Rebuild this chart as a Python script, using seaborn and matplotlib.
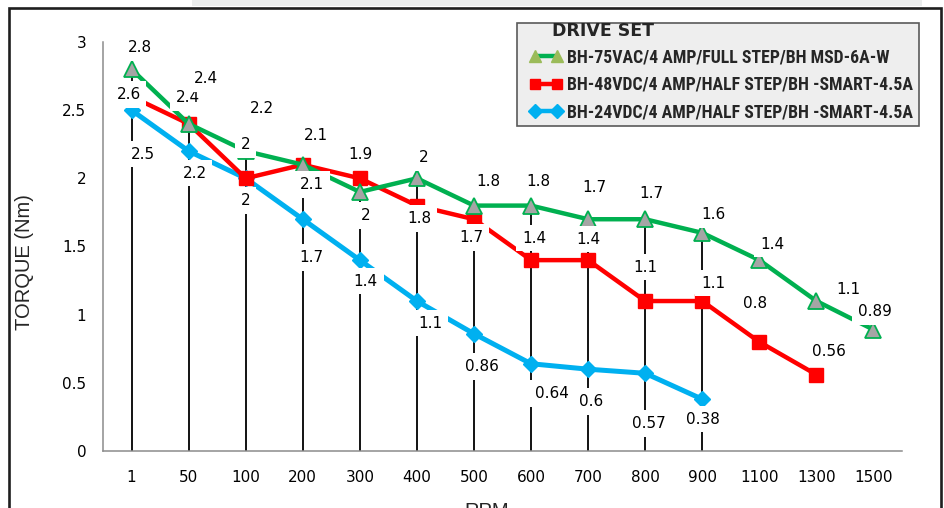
import numpy as np
import pandas as pd
import matplotlib
matplotlib.use("Agg")
import matplotlib.pyplot as plt
import seaborn as sns
from matplotlib.lines import Line2D
from matplotlib.patches import Rectangle
from matplotlib.ticker import FixedLocator

# ---------------- data ----------------
speeds = ["1", "50", "100", "200", "300", "400", "500", "600", "700",
          "800", "900", "1100", "1300", "1500"]
torque_75vac = [2.8, 2.4, 2.2, 2.1, 1.9, 2.0, 1.8, 1.8, 1.7, 1.7, 1.6, 1.4, 1.1, 0.89]
torque_48vdc = [2.6, 2.4, 2.0, 2.1, 2.0, 1.8, 1.7, 1.4, 1.4, 1.1, 1.1, 0.8, 0.56]
torque_24vdc = [2.5, 2.2, 2.0, 1.7, 1.4, 1.1, 0.86, 0.64, 0.6, 0.57, 0.38]
name_75vac = "BH-75VAC/4 AMP/FULL STEP/BH MSD-6A-W"
name_48vdc = "BH-48VDC/4 AMP/HALF STEP/BH -SMART-4.5A"
name_24vdc = "BH-24VDC/4 AMP/HALF STEP/BH -SMART-4.5A"
legend_title = "DRIVE SET"
y_label = "TORQUE (Nm)"
x_label = "RPM"
y_ticks = [0, 0.5, 1, 1.5, 2, 2.5, 3]
y_ticklabels = ["0", "0.5", "1", "1.5", "2", "2.5", "3"]

# label offsets (pixels, screen: +x right, +y down) -- styling only
off_75vac = [(8, -22), (17, -45), (16, -43), (13, -29), (1, -37), (7, -21), (14, -24),
             (7, -24), (6, -32), (6, -26), (11, -18), (13, -16), (32, -12), (1, -18)]
off_48vdc = [(-3, -2), (-1, -26), (0, -34), (9, 20), (6, 37), (2, 13), (-3, 18),
             (3, -22), (0, -21), (0, -34), (11, -18), (-4, -38), (13, -23)]
off_24vdc = [(11, 44), (6, 22), (0, 22), (9, 38), (6, 21), (13, 22), (8, 33),
             (21, 30), (3, 32), (4, 50), (1, 20)]

GREEN = "#00B050"
RED = "#FF0000"
BLUE = "#00B0F0"
GREY_FACE = "#A5A5A5"

sns.set_style("white")
plt.rcParams["font.family"] = ["DejaVu Sans"]

W, H = 945, 508
fig = plt.figure(figsize=(W / 100, H / 100), dpi=100)
fig.patch.set_facecolor("white")

# top grey strip and outer frame
fig.add_artist(Rectangle((192 / W, 1 - 6 / H), (922 - 192) / W, 6 / H,
                         transform=fig.transFigure, facecolor="#EBEDED",
                         edgecolor="none", zorder=0))
fig.add_artist(Rectangle((9 / W, -0.05), (941 - 9) / W, 1.05 - 8.5 / H,
                         transform=fig.transFigure, fill=False,
                         edgecolor="#1E1E1E", linewidth=1.9, zorder=1))

ax = fig.add_axes([103 / W, 1 - 451 / H, (902 - 103) / W, (451 - 42) / H])
ax.set_facecolor("none")

df_b = pd.DataFrame({"speed": speeds[:len(torque_24vdc)], "torque": torque_24vdc})
df_r = pd.DataFrame({"speed": speeds[:len(torque_48vdc)], "torque": torque_48vdc})
df_g = pd.DataFrame({"speed": speeds, "torque": torque_75vac})

# establish category order
ax.xaxis.update_units(speeds)

# drop lines (categories where all series exist)
n_drop = len(torque_24vdc)
tops = [max(torque_75vac[i], torque_48vdc[i], torque_24vdc[i]) for i in range(n_drop)]
ax.vlines(speeds[:n_drop], 0, tops, color="black", linewidth=1.3, zorder=1)

sns.lineplot(data=df_b, x="speed", y="torque", sort=False, ax=ax, color=BLUE,
             linewidth=3.6, marker="D", markersize=8, markerfacecolor=BLUE,
             markeredgecolor=BLUE, markeredgewidth=1, zorder=2)
sns.lineplot(data=df_r, x="speed", y="torque", sort=False, ax=ax, color=RED,
             linewidth=3.2, marker="s", markersize=10, markerfacecolor=RED,
             markeredgecolor=RED, markeredgewidth=1, zorder=3)
sns.lineplot(data=df_g, x="speed", y="torque", sort=False, ax=ax, color=GREEN,
             linewidth=3.2, marker="^", markersize=11, markerfacecolor=GREY_FACE,
             markeredgecolor=GREEN, markeredgewidth=1.3, zorder=4)

def add_labels(vals, offs):
    for i, v in enumerate(vals):
        dx, dy = offs[i]
        ax.annotate(f"{v:g}", xy=(speeds[i], v), xytext=(dx, -dy),
                    textcoords="offset pixels", ha="center", va="center",
                    fontsize=11, color="black", zorder=6,
                    bbox=dict(boxstyle="square,pad=0.38", facecolor="white",
                              edgecolor="none"))

add_labels(torque_24vdc, off_24vdc)
add_labels(torque_48vdc, off_48vdc)
add_labels(torque_75vac, off_75vac)

ax.set_xlim(-0.5, len(speeds) - 0.5)
ax.set_ylim(0, 3)
ax.set_yticks(y_ticks)
ax.set_yticklabels(y_ticklabels)
ax.set_xlabel("")
ax.set_ylabel("")
ax.xaxis.set_minor_locator(FixedLocator(np.arange(-0.5, len(speeds), 1.0)))
ax.tick_params(axis="x", which="major", length=0, pad=14, labelsize=11, colors="black")
ax.tick_params(axis="x", which="minor", length=7, width=1, color="#8C8C8C", direction="out")
ax.tick_params(axis="y", which="major", length=5, width=1, color="#8C8C8C",
               direction="out", pad=7, labelsize=11, labelcolor="black")
for s in ["top", "right"]:
    ax.spines[s].set_visible(False)
for s in ["left", "bottom"]:
    ax.spines[s].set_color("#8C8C8C")
    ax.spines[s].set_linewidth(1.1)
ax.grid(False)

fig.text(25 / W, 1 - 262 / H, y_label, rotation=90, ha="center", va="center",
         fontsize=14.5, color="#262626", family=["Liberation Sans", "DejaVu Sans"])
fig.text(487 / W, 1 - 502 / H, x_label, ha="center", va="top",
         fontsize=14.5, color="#262626", family=["Liberation Sans", "DejaVu Sans"])

# legend
fig.add_artist(Rectangle((517 / W, 1 - 126 / H), (919 - 517) / W, (126 - 23) / H,
                         transform=fig.transFigure, facecolor="#EEEEEE",
                         edgecolor="#5A5A5A", linewidth=1.2, zorder=2))
fig.text(552 / W, 1 - 31.5 / H, legend_title, ha="left", va="center",
         fontsize=12.5, fontweight="heavy", color="#262626", zorder=3,
         family=["DejaVu Sans"])
handles = [
    Line2D([], [], color=GREEN, linewidth=3.2, marker="^", markersize=8,
           markerfacecolor="#9BBB59", markeredgecolor="#9BBB59"),
    Line2D([], [], color=RED, linewidth=3.2, marker="s", markersize=7,
           markerfacecolor=RED, markeredgecolor=RED),
    Line2D([], [], color=BLUE, linewidth=3.2, marker="D", markersize=7,
           markerfacecolor=BLUE, markeredgecolor=BLUE),
]
leg = fig.legend(handles, [name_75vac, name_48vdc, name_24vdc],
                 loc="upper left", bbox_to_anchor=(530 / W, 1 - 48 / H),
                 frameon=False, numpoints=2, handlelength=1.8, handletextpad=0.3,
                 labelspacing=0.55, borderpad=0, borderaxespad=0,
                 prop={"family": ["Roboto Condensed", "PT Sans Narrow", "DejaVu Sans"],
                       "weight": "bold", "size": 12.8})
leg.set_zorder(4)
for t in leg.get_texts():
    t.set_color("#262626")

fig.savefig("out.png", dpi=100)
